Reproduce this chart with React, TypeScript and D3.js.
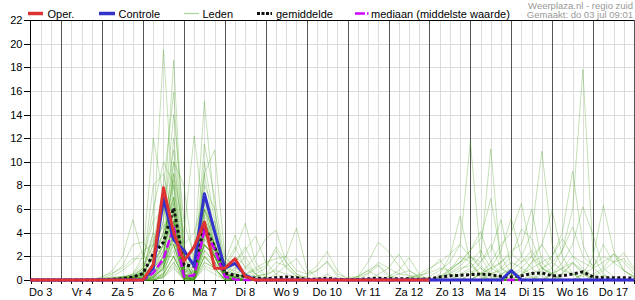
import React from 'react';
import * as d3 from 'd3';

const START = new Date(2025, 6, 3, 6);
const END = new Date(2025, 6, 18, 0);

const dayLabels = ["Do 3", "Vr 4", "Za 5", "Zo 6", "Ma 7", "Di 8", "Wo 9", "Do 10", "Vr 11", "Za 12", "Zo 13", "Ma 14", "Di 15", "Wo 16", "Do 17"];
const yTicks = [0, 2, 4, 6, 8, 10, 12, 14, 16, 18, 20, 22];

const oper = [0,0,0,0,0,0,0, 0,0,0,0, 0,1.3,7.8,4.0, 1.6,2.8,4.9,1.0, 1.0,1.8,0.3,0, 0,0,0,0, 0,0,0,0, 0,0,0,0, 0,0,0,0, 0];
const controle = [0,0,0,0,0,0,0, 0,0,0,0, 0,1.0,6.9,3.4, 2.5,1.2,7.3,4.1, 1.0,1.4,0.4,0, 0,0,0,0, 0,0,0,0, 0,0,0,0, 0,0,0,0, 0,0,0,0, 0,0,0,0, 0.8,0,0,0, 0,0,0,0, 0,0,0,0, 0];
const gemiddelde = [0,0,0,0,0,0,0, 0.02,0.05,0.12,0.25, 0.55,2.2,3.2,6.1, 1.3,1.15,4.5,2.8, 0.6,0.4,0.3,0.15, 0.1,0.2,0.25,0.2, 0.05,0.08,0.15,0.05, 0.02,0.05,0.1,0.15, 0.1,0.1,0.1,0.05, 0.1,0.25,0.35,0.4, 0.45,0.5,0.45,0.3, 0.25,0.35,0.55,0.6, 0.35,0.35,0.5,0.7, 0.25,0.2,0.2,0.2, 0.15];
const mediaan = [0,0,0,0,0,0,0, 0,0,0,0, 0,0.6,1.8,4.5, 0.3,0.4,4.2,2.6, 0.3,0.05,0,0, 0,0,0,0, 0,0,0,0, 0,0,0,0, 0,0,0,0, 0,0,0,0, 0,0,0,0, 0,0,0,0, 0,0,0,0, 0,0,0,0, 0];

const leden: number[][] = [
  [0,0,0,0,0,0,0, 0,0,0.1,0.3, 1,4,19.5,6, 1,0.3,3,2, 0.3,0.2,0,0, 0,0,0,0, 0,0,0,0, 0,0,0,0, 0,0,0,0, 0,0.3,0.5,1, 1.2,0.5,0,0, 0,0,0.3,0, 0,0,0,0, 0,0,0,0, 0],
  [0,0,0,0,0,0,0, 0,0,0.1,0.2, 0.5,2,5,18.6, 2,0.5,5,4, 0.5,0.3,0.1,0, 0,0.5,1.2,0.3, 0,0,0,0, 0,0,0,0, 0,0,0,0, 0,0,0,0.4, 0.8,0.2,0,0, 0,0,0,0, 0,0.5,1.5,0.6, 0,0,0,0, 0],
  [0,0,0,0,0,0,0, 0,0,0,0.1, 0.8,3,8,15.9, 1.5,0.2,6,3, 0.4,1,2,0.5, 0,0,0,0, 0,0,0.5,0, 0,0,0,0, 0,0,0,0, 0,0,0,0, 0,0.6,0.2,0, 0,0,0,0, 0,0,0,0, 0,0.4,0,0, 0],
  [0,0,0,0,0,0,0, 0,0.1,0.2,0.5, 2,12,7,4, 0.5,0,2,1, 0,0,0,0, 0,0,0,0, 0,0,0,0, 0,0,0.5,1.2, 0.3,0,0,0, 0,0,0,0, 0,0,0,0, 0.3,0.8,0.2,0, 0,0,0,0, 0,0,0,0, 0],
  [0,0,0,0,0,0,0, 0,0,0,0.1, 0.3,1,3,9, 4,12.2,5,2, 0.5,0.2,0,0, 0,0,0,0, 0,0,0,0, 0,0,0,0, 0,0,0,0, 0,0,0.8,2, 1.5,0.3,0,0, 0,0,0,0, 0,0,0,0, 0,0,0,0, 0],
  [0,0,0,0,0,0,0, 0,0,0,0, 0.2,0.5,2,6, 0.3,2,15.1,6, 1,0.5,0.3,0, 0,0,0,0, 0,0,0,0, 0,0,0,0, 0,0,0,0, 0,0,0,0, 0,0,0,0, 0,0,0,0, 0,0.6,1.4,0.5, 0,0,0,0, 0],
  [0,0,0,0,0,0,0, 0.2,0.8,2,5.1, 2,1.5,3,5, 0.2,0.5,4,3, 0.2,0,0,0, 0,0,0,0, 0,0,0,0, 0,0,0,0, 0,0,0,0, 0,0,0.5,0, 0,0,0,0, 0,0,0,0, 0,0,0,0, 0,0,0,0, 0],
  [0,0,0,0,0,0,0, 0.1,0.5,1.2,3, 3.2,2,4,7, 0.5,0.2,3,2, 0.3,0,0,0, 0,0,0,0, 0,0,0,0, 0,0,0,0, 0,0,0,0, 0.3,0.8,1.5,3, 11.7,2,0.5,0, 0,0,0,0, 0,0,0,0, 0,0,0,0, 0],
  [0,0,0,0,0,0,0, 0,0,0.2,0.5, 1.5,6,10,8, 1,0,4,5, 0.5,0.3,0,0, 0,0,0,0, 0,0,0,0, 0,0,0,0, 0,0,0,0, 0,0,0,0.5, 1,2,11.1,1, 0.3,0,0,0, 0,0,0,0, 0,0,0,0, 0],
  [0,0,0,0,0,0,0, 0,0,0.1,0.3, 0.5,1,2,12, 3,0.3,7,4, 0.8,0.5,0.2,0, 0,0,0,0, 0,0,0,0, 0,0,0,0, 0,0,0,0, 0,0.2,1,1.5, 2.5,3.5,6.9,2, 0.5,0,0,0, 0,0,0,0, 0,0,0,0, 0],
  [0,0,0,0,0,0,0, 0,0,0,0, 0,0.5,1.5,10, 8,1,3,2, 0.5,0.2,0,0, 0,0,0,0, 0,0,0,0, 0,0,0,0, 0,0,0,0, 0,0.5,2,5.4, 1.5,0.5,0,0, 0,0,0,0, 0,0,0,0, 0,0,0,0, 0],
  [0,0,0,0,0,0,0, 0,0,0,0.2, 1,3,6,11, 2,0,9,11, 2,1,0.5,0, 0,0,0,0, 0,0,0,0, 0,0,0,0, 0,0,0,0, 0,0,0,0, 0.5,1.5,2.5,5.1, 1,0,0,0, 0,0,0,0, 0,0,0,0, 0],
  [0,0,0,0,0,0,0, 0,0,0,0, 0,0.2,1,4, 0.5,0,5,3, 0.2,0,0,0, 0,0,0,0, 0,0,0,0, 0,0,0,0, 0,0,0,0, 0,0,0,0, 0,0.5,1.5,3, 4,6.5,2,0.5, 0,0,0,0, 0,0,0,0, 0],
  [0,0,0,0,0,0,0, 0,0,0,0.1, 0.3,0.5,1.2,3, 0.1,0.5,6,4, 0.5,0.2,0,0, 0,0,0,0, 0,0,0,0, 0,0,0,0, 0,0,0,0, 0,0,0,0, 0,0,0.8,1.5, 2.5,3,6,1.5, 0.5,0,0,0, 0,0,0,0, 0],
  [0,0,0,0,0,0,0, 0,0,0,0, 0,0,0.5,2, 0.2,0,4,2, 0.3,0,0,0, 0,0,0,0, 0,0,0,0, 0,0,0,0, 0,0,0,0, 0,0,0,0, 0,0,0,0.5, 1,2,4,10.9, 3,1,0.5,0, 0,0,0,0, 0],
  [0,0,0,0,0,0,0, 0,0.1,0.2,0.2, 0.6,2,4,7, 1,0.3,10,5, 1,0.8,0.3,0, 0,0,0,0, 0,0,0,0, 0,0,0,0, 0,0,0,0, 0,0,0,0, 0,0,0,0, 0,0.5,1.5,3, 5.9,2,0.5,0, 0,0,0,0, 0],
  [0,0,0,0,0,0,0, 0,0.1,0.3,0.4, 1.2,8,9,5, 0.5,0,2,1.5, 0.2,0,0,0, 0,0,0,0, 0,0,0,0, 0,0,0,0, 0,0,0,0, 0,0,0,0, 0,0,0,0, 0,0,0,0.8, 2,4,9.2,3, 1,0.3,0,0, 0],
  [0,0,0,0,0,0,0, 0,0,0,0, 0.1,0.3,1.5,5, 0.3,0,3,2, 0.2,0,0,0, 0,0,0,0, 0,0,0,0, 0,0,0,0, 0,0,0,0, 0,0,0,0, 0,0,0,0, 0,0,0,0.5, 1,2.5,6,17.8, 2,0.5,0,0, 0],
  [0,0,0,0,0,0,0, 0,0,0,0, 0,0.2,0.8,4, 0.1,0.2,5,3, 0.5,0.2,0,0, 0,0,0,0, 0,0,0,0, 0,0,0,0, 0,0,0,0, 0,0,0,0, 0,0,0,0, 0,0,0,0, 0.5,1.5,3,6.2, 3.8,1,0.3,0, 0],
  [0,0,0,0,0,0,0, 0,0,0.1,0.1, 0.3,1,2.5,6, 0.4,0.8,11.5,7, 1.5,0.6,0.2,0, 0,0,0,0, 0,0,0,0, 0,0,0,0, 0,0,0,0, 0,0,0,0, 0,0,0,0, 0,0,0,0, 0,0,0,0.5, 2,6.3,2.5,0.8, 0.3],
  [0,0,0,0,0,0,0, 0,0,0,0, 0,0,0.3,1.5, 0,0,2,1, 0,0,0,0, 0,0,0,0, 0,0,0,0, 0,0,0,0, 0,0,0,0, 0,0,0,0, 0,0,0,0, 0,0,0,0, 0,0,0,0, 0.3,0.8,1.5,2.3, 1],
  [0,0,0,0,0,0,0, 0,0.1,0.2,0.2, 0.5,2,5,14, 5,2,4,2, 1,2.5,4.8,1.5, 0.3,0,0,0, 0,0,0,0, 0,0,0,0, 0,0,0,0, 0,0,0,0, 0,0,0,0, 0,0,0,0, 0,0,0,0, 0,0,0,0, 0],
  [0,0,0,0,0,0,0, 0,0.1,0.2,0.3, 0.8,4,3,3, 0.2,0,3.5,2.5, 1.5,3.8,1.5,0.5, 0,0,0,0, 0,0,0,0, 0,0,0,0, 0,0,0,0, 0,0,0,0, 0.5,1,0.3,0, 0,0,0,0, 0,0,0,0, 0,0,0,0, 0],
  [0,0,0,0,0,0,0, 0,0,0,0, 0.2,0.6,1.9,8, 1,0.5,8,6, 0.8,1.5,2.5,3.7, 1.5,0.5,0,0, 0,0,0,0, 0,0,0,0, 0,0,0,0, 0,0,0,0, 0,0,0,0, 0,0,0,0, 0,0,0,0, 0,0,0,0, 0],
  [0,0,0,0,0,0,0, 0,0,0,0, 0,0.1,0.6,3, 0.2,0,4.2,2.5, 0.3,0.5,1,2, 3.5,4.2,1.5,0.5, 0,0,0,0, 0,0,0,0, 0,0,0,0, 0,0,0,0, 0,0,0,0, 0,0,0,0, 0,0,0,0, 0,0,0,0, 0],
  [0,0,0,0,0,0,0, 0.1,0.3,0.8,1.5, 2.5,3,2,2, 0.1,0,1.5,1, 0,0,0,0, 0.3,1,2,4.4, 1,0.2,0,0, 0,0,0,0, 0,0,0,0, 0,0,0,0, 0,0,0,0, 0,0,0,0, 0,0,0,0, 0,0,0,0, 0],
  [0,0,0,0,0,0,0, 0,0,0,0, 0,0.3,1,5, 0.5,0.3,6,4, 0.5,0.3,0.5,1, 1.5,1.8,2,0.8, 0.5,1.2,2.4,0.8, 0,0,0,0, 0,0,0,0, 0,0,0,0, 0,0,0,0, 0,0,0,0, 0,0,0,0, 0,0,0,0, 0],
  [0,0,0,0,0,0,0, 0,0,0,0.1, 0.4,1.5,3,9, 2,0,5,3, 0.4,0.2,0,0, 0,0,0,0, 0,0,0,0, 0,0.3,1.5,3.2, 2.4,1.2,0.3,0, 0,0,0,0, 0,0,0,0, 0,0,0,0, 0,0,0,0, 0,0,0,0, 0],
  [0,0,0,0,0,0,0, 0,0,0,0, 0,0,0.2,1, 0,0.2,3,2, 0.2,0,0,0, 0,0,0,0, 0,0,0,0, 0,0,0,0.5, 1,2.2,0.8,0.2, 0,0,0,0, 0,0,0,0, 0,0,0,0, 0,0,0,0, 0,0,0,0, 0],
  [0,0,0,0,0,0,0, 0,0,0.1,0.2, 0.5,2.5,7,4, 0.3,0,2,1, 0.1,0,0,0, 0,0,0,0, 0,0,0,0, 0,0,0,0, 0.3,0.8,1.9,0.5, 0,0,0,0, 0,0,0,0, 0,0,0,0, 0,0,0,0, 0,0,0,0, 0],
  [0,0,0,0,0,0,0, 0,0,0,0, 0.1,0.4,1,6, 0.6,1,9,4, 0.5,0.2,0.5,0.8, 1.2,2.5,1,0.3, 0,0,0,0, 0,0,0,0, 0,0,0,0.3, 0.8,1.75,0.5,0.2, 0,0,0,0, 0,0,0,0, 0,0,0,0, 0,0,0,0, 0],
  [0,0,0,0,0,0,0, 0,0.1,0.2,0.3, 0.7,1.8,4,10, 3,4,7,3, 0.6,0.4,0.2,0, 0,0,0,0, 0,0,0,0, 0,0,0,0, 0,0,0,0, 0,0.3,0.8,1.5, 2.5,4.1,1.5,0.5, 0,0,0,0, 0,0,0,0, 0,0,0,0, 0],
  [0,0,0,0,0,0,0, 0,0,0,0, 0,0.2,0.5,2, 0.1,0.1,3.5,2, 0.2,0,0,0, 0,0,0,0, 0,0,0,0, 0,0,0,0, 0,0,0,0, 0,0,0,0, 0,0.5,1,2.5, 5.2,2,1,0.3, 0,0,0,0, 0,0,0,0, 0],
  [0,0,0,0,0,0,0, 0,0,0,0, 0,0,0.4,3.5, 0.2,0.3,4.5,3, 0.4,0.2,0,0, 0,0,0,0, 0,0,0,0, 0,0,0,0, 0,0,0,0, 0,0,0,0, 0,0,0,0, 0.5,1,2,3, 1.5,0.8,0.5,0.3, 0.5,1,2.2,0.8, 0.2],
  [0,0,0,0,0,0,0, 0.3,0.6,1,1.8, 1.8,5,6,3, 0.4,0,1,0.5, 0,0,0,0, 0,0,0,0, 0,0,0,0, 0,0.3,0.8,1.3, 0.5,0,0,0, 0,0,0,0, 0,0,0,0, 0,0,0,0, 0,0,0,0, 0,0,0,0, 0],
  [0,0,0,0,0,0,0, 0,0,0,0, 0,0.1,1.2,4.5, 0.3,0.2,4,2, 0.3,0.2,0.5,0.3, 0.5,1.5,1.2,1.8, 0.5,0.8,1.5,0.3, 0,0,0,0, 0,0,0,0, 0,0,0,0, 0,0,0,0, 0,0,0,0, 0,0,0,0, 0,0,0,0, 0],
  [0,0,0,0,0,0,0, 0,0,0.1,0.2, 0.2,0.5,2.2,7, 1.2,0.6,6.5,3.5, 0.4,1.5,2.8,1, 0.2,0,0,0, 0,0,0,0, 0,0,0,0, 0,0,0,0, 0,0,0.3,0.8, 1.5,2.5,1,0.5, 0.8,1.5,2.5,1, 0.5,0,0,0, 0,0,0,0, 0],
  [0,0,0,0,0,0,0, 0.1,0.1,0.2,0.2, 0.4,1,1.9,4.5, 0.2,0,2.5,1.5, 0.2,0,0,0, 0,0,0,0, 0,0,0,0, 0,0,0,0, 0,0,0,0, 0,0,0,0, 0,0,0,0, 0,0.5,1,1.5, 2,3.5,2,1, 0.3,0,0,0, 0],
  [0,0,0,0,0,0,0, 0,0,0,0, 0,0,0.2,1.5, 0.1,0,1.5,1, 0.1,0,0,0.3, 0.5,0.8,0.5,0.2, 0.3,0.8,1.6,0.5, 0.2,0.3,0.8,0.3, 0,0,0,0, 0,0,0,0, 0,0,0,0, 0,0,0,0, 0,0,0,0, 0,0,0,0, 0],
  [0,0,0,0,0,0,0, 0,0,0.1,0.1, 0.3,0.8,2.5,5.5, 0.5,0.2,5,2.5, 0.3,0,0,0, 0,0,0,0, 0,0,0,0, 0,0,0,0, 0,0,0.2,0.5, 1,1.5,2.2,3, 2,1.2,0.5,0.2, 0,0,0,0, 0,0,0,0, 0,0,0,0, 0],
  [0,0,0,0,0,0,0, 0,0,0,0, 0.1,0.5,1.5,3.5, 0.3,3,6,3, 0.6,0.3,0,0, 0,0,0,0, 0,0,0,0, 0,0,0,0, 0,0,0,0, 0,0,0,0, 0,0,0.5,1, 2,4.3,3.5,1, 0.5,1,1.5,0.8, 0,0,0,0, 0],
  [0,0,0,0,0,0,0, 0.1,0.2,0.3,0.4, 1,3.5,4.5,6, 0.5,0,3,2, 0.2,0,0,0, 0,0,0,0, 0,0,0,0, 0,0.2,0.6,1.5, 1,0.5,0.8,0.3, 0,0,0,0, 0,0,0,0, 0,0,0,0, 0,0,0,0, 0,0,0,0, 0],
  [0,0,0,0,0,0,0, 0,0,0,0, 0,0.3,0.9,2.5, 0,0,2.5,1.5, 0.8,2,1.2,0.5, 1,2.8,1.5,0.5, 0.2,0,0,0, 0,0,0,0, 0,0,0,0, 0,0,0,0, 0,0,0,0, 0,0,0,0, 0,0,0,0, 0,0,0,0, 0],
  [0,0,0,0,0,0,0, 0,0,0,0, 0,0,0.5,2, 0.2,0.8,5.5,3, 0.4,0,0,0, 0,0,0,0, 0,0,0,0, 0,0,0,0, 0,0,0,0, 0,0,0,0, 0,0,0,0, 0,0,0.5,1, 1.5,2.5,4.5,2, 1.2,2,1.5,0.8, 0.3],
  [0,0,0,0,0,0,0, 0,0,0.1,0.2, 0.5,1.2,3,8.5, 1.5,0.3,4.5,2.5, 0.3,0,0,0, 0,0,0,0, 0,0,0,0, 0,0,0,0, 0,0,0,0, 0,0.2,0.6,1.2, 2,1.5,3,1, 0.5,0.3,1.5,2, 1,0,0,0, 0,0,0,0, 0],
  [0,0,0,0,0,0,0, 0,0,0,0, 0,0.2,1,4, 0.2,0,3.8,2.2, 1.2,2.8,1,0.3, 0,0,0,0, 0,0,0,0, 0,0,0,0, 0,0,0,0, 0,0,0,0, 0,0,0,0, 0,0,0,0, 0,0,0,0, 0,0,0,0, 0],
  [0,0,0,0,0,0,0, 0,0,0.1,0.1, 0.2,0.6,1.6,5, 0.4,0.4,4.8,3, 0.4,0,0,0, 0,0,0,0, 0,0,0,0, 0,0,0,0, 0,0,0,0, 0,0,0,0, 0,0,0,0, 0,0,0,0, 0.5,1,2,1.5, 1,3,1.5,1.8, 0.8],
  [0,0,0,0,0,0,0, 0,0,0,0, 0,0,0.3,1.2, 0,0,1.2,0.8, 0,0,0,0, 0,0,0,0, 0,0,0,0, 0,0,0,0, 0,0,0.2,0.4, 0.6,1,0.8,1.5, 2,1,0.5,0.8, 1.5,1,0.5,0, 0,0,0,0, 0,0,0,0, 0],
  [0,0,0,0,0,0,0, 0.1,0.2,0.3,0.3, 0.6,2.2,3.5,6.5, 0.8,0.2,4,2.2, 0.3,0,0,0, 0,0,0,0, 0,0,0,0, 0,0,0,0, 0.2,0.5,0.4,0.2, 0,0,0,0, 0,0.5,1,1.5, 2.2,1.5,2,1, 0.3,0,0,0, 0,0,0,0, 0],
  [0,0,0,0,0,0,0, 0,0,0,0, 0.1,0.3,1.4,4.8, 0.4,0.2,4.4,2.8, 0.4,0,0,0, 0,0,0,0, 0,0,0,0, 0,0,0,0, 0,0,0,0, 0,0,0,0, 0,0,0,0, 0,0,0,0, 0,0,0,0.5, 1,1.5,2.2,1.5, 0.5],
];

const FONT = "'Liberation Sans', Arial, Helvetica, sans-serif";

export default function App() {
  const x = d3.scaleTime().domain([START, END]).range([30.5, 634]);
  const y = d3.scaleLinear().domain([0, 22]).range([280, 20]);
  const times = d3.range(60).map(i => d3.timeHour.offset(START, i * 6));
  const line = d3.line<number>().x((_, i) => x(times[i])).y(v => y(v));
  const grid = d3.timeHour.every(6)!.range(START, d3.timeHour.offset(END, 1));
  const px = (v: number) => Math.round(v) + 0.5;
  const left = 30.5, right = 634, top = y(22), bottom = y(0);

  return (
    <svg width={635} height={300} style={{ position: 'absolute', left: 0, top: 0, background: '#fff' }} fontFamily={FONT}>
      {yTicks.filter(t => t > 0 && t < 22).map(t => (
        <line key={'h' + t} x1={left} x2={right} y1={px(y(t))} y2={px(y(t))} stroke="#dcdcdc" strokeWidth={1} shapeRendering="crispEdges" />
      ))}
      {grid.filter(d => d.getHours() !== 0 && +d > +START).map((d, i) => (
        <line key={'vl' + i} x1={px(x(d))} x2={px(x(d))} y1={top} y2={bottom} stroke="#dcdcdc" strokeWidth={1} shapeRendering="crispEdges" />
      ))}
      {grid.filter(d => d.getHours() === 0).map((d, i) => (
        <line key={'vd' + i} x1={px(x(d))} x2={px(x(d))} y1={top} y2={bottom} stroke="#555" strokeWidth={1} shapeRendering="crispEdges" />
      ))}
      <line x1={left} x2={right} y1={px(top)} y2={px(top)} stroke="#000" shapeRendering="crispEdges" />
      <line x1={left} x2={left} y1={top} y2={bottom} stroke="#000" shapeRendering="crispEdges" />
      <line x1={left} x2={right} y1={px(bottom)} y2={px(bottom)} stroke="#000" shapeRendering="crispEdges" />
      {grid.map((d, i) => (
        <line key={'xt' + i} x1={px(x(d))} x2={px(x(d))} y1={bottom} y2={bottom + 4} stroke="#000" shapeRendering="crispEdges" />
      ))}
      {yTicks.map(t => (
        <g key={'yt' + t}>
          <line x1={24} x2={left} y1={px(y(t))} y2={px(y(t))} stroke="#000" shapeRendering="crispEdges" />
          <text x={22.5} y={y(t) + 4} fontSize={11} textAnchor="end" fill="#000">{t}</text>
        </g>
      ))}
      {dayLabels.map((lab, k) => (
        <text key={lab} x={x(new Date(2025, 6, 3 + k, 12))} y={296} fontSize={11} textAnchor="middle" fill="#000">{lab}</text>
      ))}
      <g fill="none" stroke="#3f9a12" strokeOpacity={0.3} strokeWidth={1}>
        {leden.map((m, i) => <path key={'m' + i} d={line(m) || ''} />)}
      </g>
      <path d={line(gemiddelde) || ''} fill="none" stroke="#111" strokeWidth={3} strokeDasharray="3,2.5" />
      <path d={line(mediaan) || ''} fill="none" stroke="#cc00ff" strokeWidth={2.5} strokeDasharray="8,3" />
      <path d={line(controle) || ''} fill="none" stroke="#3333cc" strokeWidth={3} strokeLinejoin="round" />
      <path d={line(oper) || ''} fill="none" stroke="#dd3333" strokeWidth={3} strokeLinejoin="round" />
      <g fontSize={11} fill="#000">
        <line x1={28} x2={43} y1={13.5} y2={13.5} stroke="#dd3333" strokeWidth={3.5} />
        <text x={47.5} y={17.5}>Oper.</text>
        <line x1={99} x2={115} y1={13.5} y2={13.5} stroke="#3333cc" strokeWidth={3.5} />
        <text x={118.5} y={17.5}>Controle</text>
        <line x1={184} x2={199} y1={13.5} y2={13.5} stroke="#a9d49a" strokeWidth={1.2} />
        <text x={202.5} y={17.5}>Leden</text>
        <line x1={257} x2={272} y1={13.5} y2={13.5} stroke="#111" strokeWidth={3} strokeDasharray="3,1.5" />
        <text x={276} y={17.5}>gemiddelde</text>
        <line x1={355} x2={369} y1={13.5} y2={13.5} stroke="#cc00ff" strokeWidth={2.5} strokeDasharray="10,2,1.5,10" />
        <text x={371} y={17.5}>mediaan (middelste waarde)</text>
      </g>
      <text x={633} y={8.5} fontSize={9.5} textAnchor="end" fill="#999">Weerplaza.nl - regio zuid</text>
      <text x={633} y={18} fontSize={9.5} textAnchor="end" fill="#999">Gemaakt: do 03 jul 09:01</text>
    </svg>
  );
}
